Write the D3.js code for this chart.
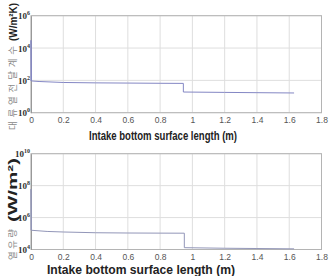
<!DOCTYPE html>
<html><head><meta charset="utf-8">
<script src="https://cdn.jsdelivr.net/npm/d3@7"></script>
<style>body{margin:0;background:#fff}svg{display:block}</style>
</head><body><svg width="329" height="276"></svg>
<script>
// data
const xTicks = [0,0.2,0.4,0.6,0.8,1,1.2,1.4,1.6,1.8];
const xTickLabels = ["0","0.2","0.4","0.6","0.8","1","1.2","1.4","1.6","1.8"];
const topExp = [0,2,4,6];
const bottomExp = [4,6,8,10];
const topX = [0,0,0.003,0.05,0.2,0.4,0.6,0.8,0.944,0.944,1.2,1.4,1.63];
const topY = [92,30000,92,85,74,70,68,66,65,19,18,17.3,16.6];
const botX = [0,0,0.003,0.1,0.2,0.4,0.6,0.8,0.95,0.95,1.2,1.4,1.63];
const botY = [1.6e5,6e7,1.6e5,1.35e5,1.25e5,1.12e5,1.08e5,1.06e5,1.05e5,1.3e4,1.2e4,1.15e4,1.1e4];
const xTitle = "Intake bottom surface length (m)";
const topYLabelKo = "대류열전달계수", topYLabelUnit = "(W/m²K)";
const botYLabelKo = "열유량", botYLabelUnit = "(W/m²)";

const svg = d3.select("svg");
const x = d3.scaleLinear().domain([0,1.8]).range([31,321.5]);

function panel(y0,y1,expList,xs,ys,color){
  const y = d3.scaleLog().domain([Math.pow(10,expList[0]),Math.pow(10,expList[expList.length-1])]).range([y1,y0]);
  const g = svg.append("g");
  g.selectAll(".gx").data(xTicks).join("line")
    .attr("x1",d=>x(d)).attr("x2",d=>x(d)).attr("y1",y0).attr("y2",y1)
    .attr("stroke","#dedede").attr("stroke-width",1);
  g.selectAll(".gy").data(expList).join("line")
    .attr("x1",x(0)).attr("x2",x(1.8)).attr("y1",d=>y(Math.pow(10,d))).attr("y2",d=>y(Math.pow(10,d)))
    .attr("stroke","#dedede").attr("stroke-width",1);
  g.append("rect").attr("x",x(0)).attr("y",y0).attr("width",x(1.8)-x(0)).attr("height",y1-y0)
    .attr("fill","none").attr("stroke","#b4b4b4").attr("stroke-width",1);
  const xa = d3.axisBottom(x).tickValues(xTicks).tickFormat((d,i)=>xTickLabels[i]).tickSize(0).tickPadding(4);
  const gx = g.append("g").attr("transform",`translate(0,${y1})`).call(xa);
  gx.select(".domain").remove();
  gx.selectAll("text").attr("font-family","Liberation Sans, Arial, sans-serif").attr("font-size",8.5).attr("fill","#555");
  const ya = d3.axisLeft(y).tickValues(expList.map(e=>Math.pow(10,e))).tickSize(0).tickPadding(1).tickFormat("");
  const gy = g.append("g").attr("transform",`translate(${x(0)},0)`).call(ya);
  gy.select(".domain").attr("stroke","#999");
  gy.selectAll(".tick text").each(function(d){
    const t = d3.select(this).attr("font-family","Liberation Serif, Times New Roman, serif").attr("font-weight","bold").attr("fill","#333").attr("dy","0.3em");
    t.append("tspan").attr("font-size",9).text("10");
    t.append("tspan").attr("font-size",6).attr("dy",-4).text(Math.round(Math.log10(d)));
  });
  const pts = xs.map((v,i)=>[v,ys[i]]);
  g.append("path").datum(pts).attr("fill","none").attr("stroke",color).attr("stroke-width",1)
    .attr("d",d3.line().x(d=>x(d[0])).y(d=>y(d[1])));
  return y;
}
panel(15.7,112.7,topExp,topX,topY,"#8487c4");
panel(153.7,249.5,bottomExp,botX,botY,"#9296b8");

svg.append("text").attr("x",89).attr("y",140).attr("font-family","Liberation Sans, Arial, sans-serif")
  .attr("font-weight","bold").attr("font-size",12).attr("fill","#222")
  .attr("textLength",148).attr("lengthAdjust","spacingAndGlyphs").text(xTitle);
svg.append("text").attr("x",47).attr("y",274).attr("font-family","Liberation Sans, Arial, sans-serif")
  .attr("font-weight","bold").attr("font-size",13.5).attr("fill","#222")
  .attr("textLength",188).attr("lengthAdjust","spacingAndGlyphs").text(xTitle);

function ylab(cx, yStart, koLen, ko, unitStart, unitLen, unit, koSize, unitSize){
  svg.append("text").attr("transform",`translate(${cx},${yStart}) rotate(-90)`)
    .attr("font-family","Noto Sans CJK KR, sans-serif").attr("font-size",koSize).attr("fill","#8a8a8a")
    .attr("textLength",koLen).attr("lengthAdjust","spacing").text(ko);
  svg.append("text").attr("transform",`translate(${cx+1},${unitStart}) rotate(-90)`)
    .attr("font-family","Liberation Sans, Arial, sans-serif").attr("font-weight","bold").attr("font-size",unitSize).attr("fill","#222")
    .attr("textLength",unitLen).attr("lengthAdjust","spacingAndGlyphs").text(unit);
}
ylab(16, 130, 84, topYLabelKo, 41, 38, topYLabelUnit, 9.5, 11);
ylab(16, 260, 31, botYLabelKo, 222, 64, botYLabelUnit, 9.5, 12.5);
</script></body></html>
